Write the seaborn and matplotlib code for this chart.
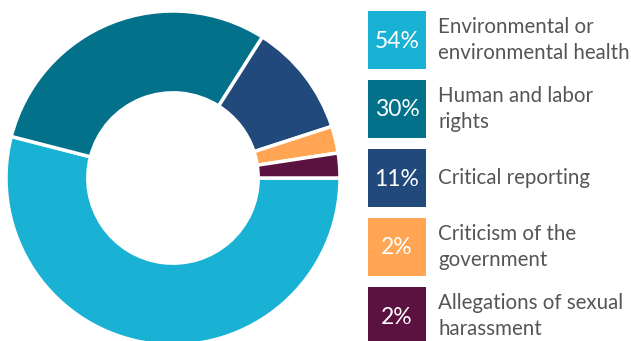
import matplotlib
matplotlib.use("Agg")
import matplotlib.pyplot as plt
from matplotlib.patches import Rectangle
import seaborn as sns

categories = ["Environmental or\nenvironmental health", "Human and labor\nrights",
              "Critical reporting", "Criticism of the\ngovernment",
              "Allegations of sexual\nharassment"]
values = [54, 30, 11, 2.6, 2.4]
pct_labels = ["54%", "30%", "11%", "2%", "2%"]
colors = ["#1ab2d4", "#037189", "#22497c", "#ffa553", "#5c1240"]

sns.set_theme(style="white")
plt.rcParams['font.family'] = ['Lato', 'DejaVu Sans']

W, H = 631, 341
fig = plt.figure(figsize=(W / 100, H / 100), dpi=100)

cx, cy, r = 173, 178, 167
ax = fig.add_axes([(cx - r) / W, (H - cy - r) / H, 2 * r / W, 2 * r / H])
ax.pie(values, colors=colors, startangle=0, counterclock=False, radius=1,
       wedgeprops=dict(width=0.49, edgecolor="white", linewidth=2.5))
ax.set_xlim(-1, 1)
ax.set_ylim(-1, 1)
ax.set_aspect("equal")
ax.axis("off")

lg = fig.add_axes([0, 0, 1, 1])
lg.set_xlim(0, W)
lg.set_ylim(H, 0)
lg.axis("off")
x0, y0, sz, step = 368, 11, 58, 69
for i, (lab, p, c) in enumerate(zip(categories, pct_labels, colors)):
    y = y0 + i * step
    lg.add_patch(Rectangle((x0, y), sz, sz, facecolor=c, edgecolor="none"))
    lg.text(x0 + sz / 2, y + sz / 2 + 1, p, color="white", fontsize=16.5,
            ha="center", va="center")
    lg.text(438, y + sz / 2, lab, color="#555555", fontsize=14.8,
            ha="left", va="center", linespacing=1.35)

fig.savefig("out.png", dpi=100)
